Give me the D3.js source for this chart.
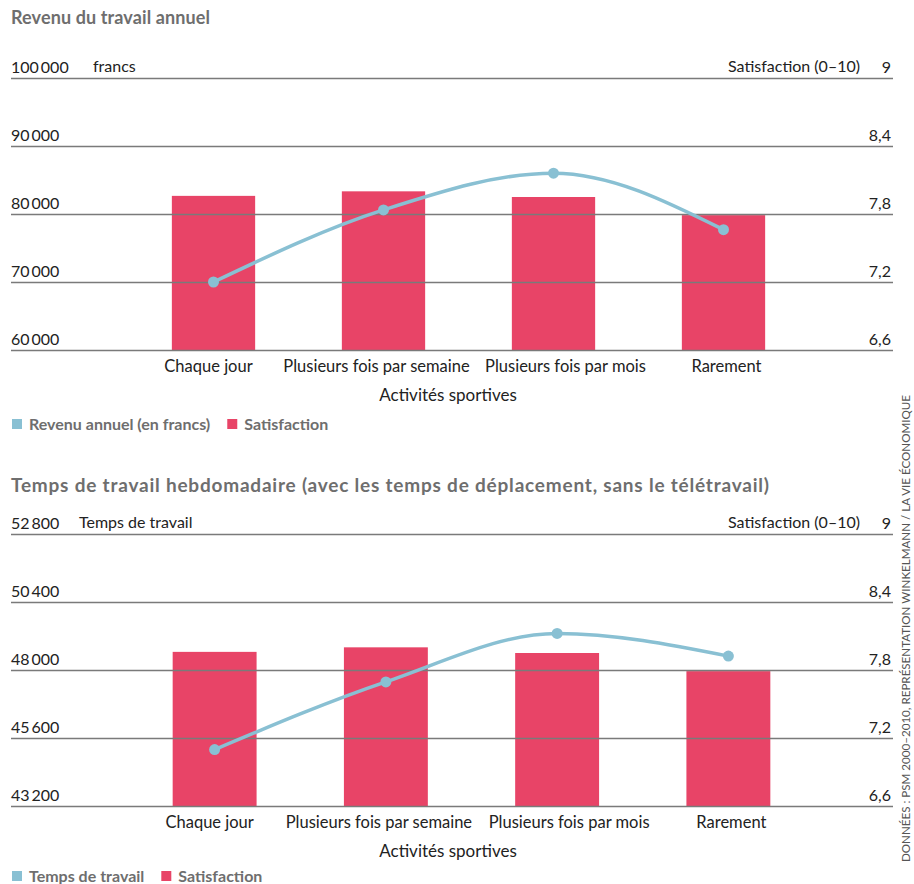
<!DOCTYPE html>
<html>
<head>
<meta charset="utf-8">
<script src="https://cdn.jsdelivr.net/npm/d3@7"></script>
<style>
  body { margin: 0; background: #fff; }
  svg text { font-family: Lato, "Open Sans", sans-serif; }
</style>
</head>
<body>
<div id="chart"></div>
<script>
// categories and values
const categories = ['Chaque jour', 'Plusieurs fois par semaine', 'Plusieurs fois par mois', 'Rarement'];
const satisfaction = [7.96, 8.00, 7.95, 7.79];
const revenu = [70000, 80600, 86000, 77700];
const tempsTravail = [45190, 47580, 49290, 48490];

const satTicks = [6.6, 7.2, 7.8, 8.4, 9];
const revenuTicks = [60000, 70000, 80000, 90000, 100000];
const tempsTicks = [43200, 45600, 48000, 50400, 52800];

const BAR = '#e84467';
const LINE = '#89c0d3';
const GRID = '#7a7a7a';
const GREY = '#6e6e6e';
const INK = '#222';

const W = 914, H = 884;
const gridLeft = 11, gridRight = 893;
// category labels are nudged apart so the two long ones don't collide
const labelNudge = [-5, -7, 12, 3];

const svg = d3.select('#chart').append('svg')
    .attr('width', W)
    .attr('height', H);

const fmtNum = d => d3.format(',')(d).replace(/,/g, '\u2009');
const fmtSat = d => String(d).replace('.', ',');

/**
 * Draw one panel: gridlines, bars (satisfaction), line (left measure), labels.
 */
function drawPanel(opts) {
    const {
        title, titleY, titleSize, titleWidth, top, bottom, bandRange,
        leftDomain, leftTicks, leftValues, leftUnit,
        legendLabel, legendY
    } = opts;

    const g = svg.append('g');

    // title
    g.append('text')
        .attr('x', gridLeft)
        .attr('y', titleY)
        .attr('textLength', titleWidth)
        .attr('lengthAdjust', 'spacing')
        .style('font-size', titleSize + 'px')
        .style('font-weight', 700)
        .style('fill', GREY)
        .text(title);

    const yLeft = d3.scaleLinear().domain(leftDomain).range([bottom, top]);
    const ySat = d3.scaleLinear().domain([6.6, 9]).range([bottom, top]);
    const x = d3.scaleBand()
        .domain(categories)
        .range(bandRange)
        .paddingInner(0.51)
        .paddingOuter(0.255);

    // bars first, gridlines drawn over them
    g.append('g').selectAll('rect')
        .data(categories)
        .enter()
        .append('rect')
        .attr('x', d => x(d))
        .attr('width', x.bandwidth())
        .attr('y', (d, i) => ySat(satisfaction[i]))
        .attr('height', (d, i) => bottom - ySat(satisfaction[i]))
        .attr('fill', BAR);

    // left axis: gridlines + labels
    const leftAxis = g.append('g')
        .attr('transform', `translate(${gridLeft},0)`)
        .call(d3.axisRight(yLeft)
            .tickValues(leftTicks)
            .tickSize(gridRight - gridLeft)
            .tickFormat(fmtNum));
    leftAxis.select('.domain').remove();
    leftAxis.selectAll('line')
        .attr('stroke', GRID)
        .attr('stroke-width', 1.5);
    leftAxis.selectAll('text')
        .attr('x', 0)
        .attr('dy', -6)
        .attr('text-anchor', 'start')
        .style('font-size', '16px')
        .style('fill', INK);

    // right axis: satisfaction labels
    const rightAxis = g.append('g')
        .attr('transform', `translate(${gridRight - 2},0)`)
        .call(d3.axisLeft(ySat)
            .tickValues(satTicks)
            .tickSize(0)
            .tickFormat(fmtSat));
    rightAxis.select('.domain').remove();
    rightAxis.selectAll('text')
        .attr('x', 0)
        .attr('dy', -6)
        .attr('text-anchor', 'end')
        .style('font-size', '16px')
        .style('fill', INK);

    // unit labels on the top gridline
    g.append('text')
        .attr('x', leftUnit.x)
        .attr('y', top - 6)
        .style('font-size', '16px')
        .style('fill', INK)
        .text(leftUnit.text);
    g.append('text')
        .attr('x', 860)
        .attr('y', top - 6)
        .attr('text-anchor', 'end')
        .style('font-size', '16px')
        .style('fill', INK)
        .text('Satisfaction (0–10)');

    // line
    const cx = i => x(categories[i]) + x.bandwidth() / 2;
    const line = d3.line()
        .x((d, i) => cx(i))
        .y(d => yLeft(d))
        .curve(d3.curveMonotoneX);
    g.append('path')
        .datum(leftValues)
        .attr('d', line)
        .attr('fill', 'none')
        .attr('stroke', LINE)
        .attr('stroke-width', 3.5);
    g.append('g').selectAll('circle')
        .data(leftValues)
        .enter()
        .append('circle')
        .attr('cx', (d, i) => cx(i))
        .attr('cy', d => yLeft(d))
        .attr('r', 5.5)
        .attr('fill', LINE);

    // x labels
    const xAxis = g.append('g')
        .attr('transform', `translate(0,${bottom})`)
        .call(d3.axisBottom(x).tickSize(0));
    xAxis.select('.domain').remove();
    xAxis.selectAll('text')
        .attr('dy', 0)
        .attr('y', 22)
        .attr('x', (d, i) => labelNudge[i])
        .style('font-size', '16.5px')
        .style('fill', INK);

    g.append('text')
        .attr('x', 448)
        .attr('y', bottom + 51)
        .attr('text-anchor', 'middle')
        .style('font-size', '17px')
        .style('fill', INK)
        .text('Activités sportives');

    // legend
    const leg = g.append('g').attr('transform', `translate(${gridLeft + 1},${legendY})`);
    leg.append('rect').attr('x', 0).attr('y', 0).attr('width', 10).attr('height', 10).attr('fill', LINE);
    const t1 = leg.append('text')
        .attr('x', 17)
        .attr('y', 11)
        .style('font-size', '16px')
        .style('font-weight', 700)
        .style('fill', GREY)
        .text(legendLabel);
    const w1 = t1.node().getComputedTextLength();
    const x2 = 17 + w1 + 17;
    leg.append('rect').attr('x', x2).attr('y', 0).attr('width', 10).attr('height', 10).attr('fill', BAR);
    leg.append('text')
        .attr('x', x2 + 17)
        .attr('y', 11)
        .style('font-size', '16px')
        .style('font-weight', 700)
        .style('fill', GREY)
        .text('Satisfaction');
}

drawPanel({
    title: 'Revenu du travail annuel',
    titleY: 24,
    titleSize: 18,
    titleWidth: 199,
    top: 78,
    bottom: 350,
    bandRange: [128.5, 808.5],
    leftDomain: [60000, 100000],
    leftTicks: revenuTicks,
    leftValues: revenu,
    leftUnit: { x: 93, text: 'francs' },
    legendLabel: 'Revenu annuel (en francs)',
    legendY: 419
});

drawPanel({
    title: 'Temps de travail hebdomadaire (avec les temps de déplacement, sans le télétravail)',
    titleY: 492,
    titleSize: 19,
    titleWidth: 758,
    top: 534,
    bottom: 806,
    bandRange: [129, 814],
    leftDomain: [43200, 52800],
    leftTicks: tempsTicks,
    leftValues: tempsTravail,
    leftUnit: { x: 79, text: 'Temps de travail' },
    legendLabel: 'Temps de travail',
    legendY: 871
});

// source note, rotated along the right edge
svg.append('text')
    .attr('transform', 'translate(910,862) rotate(-90)')
    .attr('textLength', 467)
    .attr('lengthAdjust', 'spacingAndGlyphs')
    .style('font-size', '11px')
    .style('fill', '#555')
    .text('DONNÉES : PSM 2000–2010, REPRÉSENTATION WINKELMANN / LA VIE ÉCONOMIQUE');
</script>
</body>
</html>
